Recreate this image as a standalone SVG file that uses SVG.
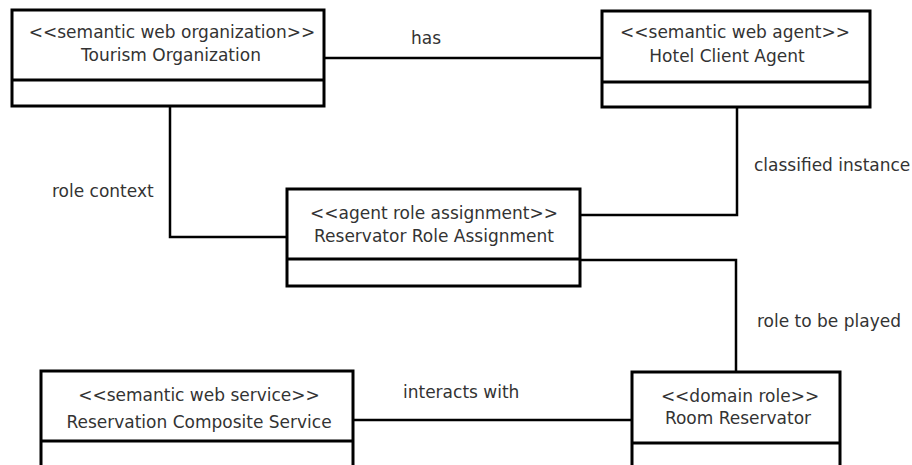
<svg xmlns="http://www.w3.org/2000/svg" width="912" height="465" viewBox="0 0 912 465">
<style>
.box{fill:#fff;stroke:#000;stroke-width:3}
.div{stroke:#000;stroke-width:3}
.con{fill:none;stroke:#000;stroke-width:2.5}
text{font-family:"DejaVu Sans",sans-serif;font-size:17px;fill:#333}
.c{text-anchor:middle}
</style>
<rect width="912" height="465" fill="#fff"/>
<g id="connectors">
<polyline class="con" points="324,58 602,58"/>
<polyline class="con" points="170,106 170,237 287,237"/>
<polyline class="con" points="737,107 737,215 580,215"/>
<polyline class="con" points="580,260 736,260 736,372"/>
<polyline class="con" points="353,420 632,420"/>
<text x="411" y="44">has</text>
<text x="52" y="197">role context</text>
<text x="754" y="171">classified instance</text>
<text x="757" y="327">role to be played</text>
<text x="403" y="398">interacts with</text>
</g>
<g id="tourism-organization">
<rect class="box" x="12" y="10" width="312" height="96"/>
<line class="div" x1="12" y1="80" x2="324" y2="80"/>
<text class="c" x="172" y="38">&lt;&lt;semantic web organization&gt;&gt;</text>
<text class="c" x="171" y="61">Tourism Organization</text>
</g>
<g id="hotel-client-agent">
<rect class="box" x="602" y="11" width="268" height="96"/>
<line class="div" x1="602" y1="82" x2="870" y2="82"/>
<text class="c" x="735" y="38">&lt;&lt;semantic web agent&gt;&gt;</text>
<text class="c" x="727" y="62">Hotel Client Agent</text>
</g>
<g id="reservator-role-assignment">
<rect class="box" x="287" y="189" width="293" height="97"/>
<line class="div" x1="287" y1="259" x2="580" y2="259"/>
<text class="c" x="434" y="219">&lt;&lt;agent role assignment&gt;&gt;</text>
<text class="c" x="434" y="242">Reservator Role Assignment</text>
</g>
<g id="reservation-composite-service">
<rect class="box" x="41" y="371" width="312" height="110"/>
<line class="div" x1="41" y1="441" x2="353" y2="441"/>
<text class="c" x="199" y="401">&lt;&lt;semantic web service&gt;&gt;</text>
<text class="c" x="199" y="428">Reservation Composite Service</text>
</g>
<g id="room-reservator">
<rect class="box" x="632" y="372" width="208" height="110"/>
<line class="div" x1="632" y1="443" x2="840" y2="443"/>
<text class="c" x="740" y="402">&lt;&lt;domain role&gt;&gt;</text>
<text class="c" x="738" y="424">Room Reservator</text>
</g>
</svg>
